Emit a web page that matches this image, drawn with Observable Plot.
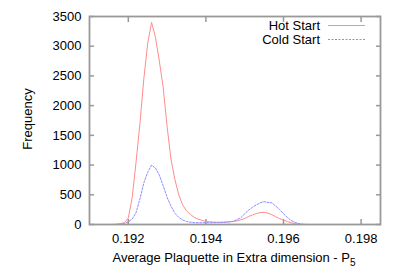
<!DOCTYPE html>
<html>
<head>
<meta charset="utf-8">
<script src="https://cdn.jsdelivr.net/npm/d3@7"></script>
<script src="https://cdn.jsdelivr.net/npm/@observablehq/plot@0.6"></script>
<style>
  body { margin: 0; background: #fff; font-family: "Liberation Sans", Arial, sans-serif; }
  #wrap { position: relative; width: 400px; height: 280px; }
  .leg { position: absolute; font-size: 13px; color: #000; line-height: 1; }
  .leg-row { position: absolute; display: flex; align-items: center; white-space: nowrap; }
</style>
</head>
<body>
<div id="wrap"></div>
<script>
const plaquette = [0.1915,0.1916,0.1917,0.1918,0.1919,0.1920,0.1921,0.1922,0.1923,0.1924,
  0.1925,0.1926,0.1927,0.1928,0.1929,0.1930,0.1931,0.1932,0.1933,0.1934,
  0.1935,0.1936,0.1937,0.1938,0.1939,0.1940,0.1941,0.1942,0.1943,0.1944,
  0.1945,0.1946,0.1947,0.1948,0.1949,0.1950,0.1951,0.1952,0.1953,0.1954,
  0.1955,0.1956,0.1957,0.1958,0.1959,0.1960,0.1961,0.1962,0.1963,0.1964,
  0.1965,0.1966,0.1967];
const hotStart = [0,0,5,15,30,110,450,1050,1700,2450,
  3050,3400,3150,2750,2300,1650,1100,760,500,330,
  230,170,120,90,70,50,45,40,38,38,
  40,45,50,60,80,100,135,160,185,200,
  205,190,165,130,100,75,50,30,12,5,
  0,0,0];
const coldStart = [0,0,0,5,15,45,90,200,430,700,
  880,1000,950,830,650,455,310,190,120,75,
  50,38,32,30,30,30,30,32,32,35,
  38,42,55,80,115,180,240,290,330,365,
  385,370,365,310,250,180,120,65,35,15,
  5,0,0];
const seriesNames = ["Hot Start", "Cold Start"];
const xTicks = [0.192, 0.194, 0.196, 0.198];
const yTicks = [0, 500, 1000, 1500, 2000, 2500, 3000, 3500];

const hotData = plaquette.map((x, i) => ({x, y: hotStart[i]}));
const coldData = plaquette.map((x, i) => ({x, y: coldStart[i]}));

const frameColor = "#999";
const hotColor = "#ff8c8c";
const coldColor = "#8c8cff";

const plot = Plot.plot({
  width: 400,
  height: 280,
  marginLeft: 89,
  marginRight: 20,
  marginTop: 16,
  marginBottom: 56,
  style: { fontFamily: "'Liberation Sans', Arial, sans-serif", fontSize: "13px", color: "#000", background: "#fff" },
  x: { domain: [0.191, 0.1985] },
  y: { domain: [0, 3500] },
  marks: [
    Plot.axisX({ ticks: xTicks, tickSize: 0, tickPadding: 9, tickFormat: d3.format(".3f"), label: null, fontSize: 13 }),
    Plot.axisX({ ticks: xTicks, tickSize: -5, tickFormat: () => "", label: null, stroke: frameColor, strokeWidth: 1.5 }),
    Plot.axisX({ anchor: "top", ticks: xTicks, tickSize: -5, tickFormat: () => "", label: null, stroke: frameColor, strokeWidth: 1.5 }),
    Plot.axisY({ ticks: yTicks, tickSize: 0, tickPadding: 8, tickFormat: d => String(d), label: null, fontSize: 13 }),
    Plot.axisY({ ticks: yTicks, tickSize: -5, tickFormat: () => "", label: null, stroke: frameColor, strokeWidth: 1.5 }),
    Plot.axisY({ anchor: "right", ticks: yTicks, tickSize: -5, tickFormat: () => "", label: null, stroke: frameColor, strokeWidth: 1.5 }),
    Plot.line(hotData, { x: "x", y: "y", stroke: hotColor, strokeWidth: 1 }),
    Plot.line(coldData, { x: "x", y: "y", stroke: coldColor, strokeWidth: 1, strokeDasharray: "2,1.5" }),
    Plot.frame({ stroke: frameColor, strokeWidth: 1.8 })
  ]
});

const wrap = document.getElementById("wrap");
wrap.appendChild(plot);

// axis titles (x-title needs a subscript)
const svg = d3.select(plot);
svg.append("text")
  .attr("x", 234).attr("y", 262)
  .attr("text-anchor", "middle")
  .attr("font-size", 13).attr("fill", "#000")
  .text("Average Plaquette in Extra dimension - P")
  .append("tspan").attr("font-size", 10).attr("dy", 4).text("5");
svg.append("text")
  .attr("transform", "translate(32,119) rotate(-90)")
  .attr("text-anchor", "middle")
  .attr("font-size", 13).attr("fill", "#000")
  .text("Frequency");

// legend (inside top-right of the frame)
const legendItems = [
  { name: seriesNames[0], color: hotColor, dash: "" , top: 18},
  { name: seriesNames[1], color: coldColor, dash: "2,1.5", top: 32}
];
legendItems.forEach(it => {
  const row = document.createElement("div");
  row.className = "leg leg-row";
  row.style.top = it.top + "px";
  row.style.right = (400 - 365) + "px";
  row.innerHTML = `<span>${it.name}</span><svg width="37" height="14" style="margin-left:8px"><line x1="0" x2="37" y1="7.5" y2="7.5" stroke="${it.color}" stroke-width="1" ${it.dash ? `stroke-dasharray="${it.dash}"` : ""}/></svg>`;
  wrap.appendChild(row);
});
</script>
</body>
</html>
